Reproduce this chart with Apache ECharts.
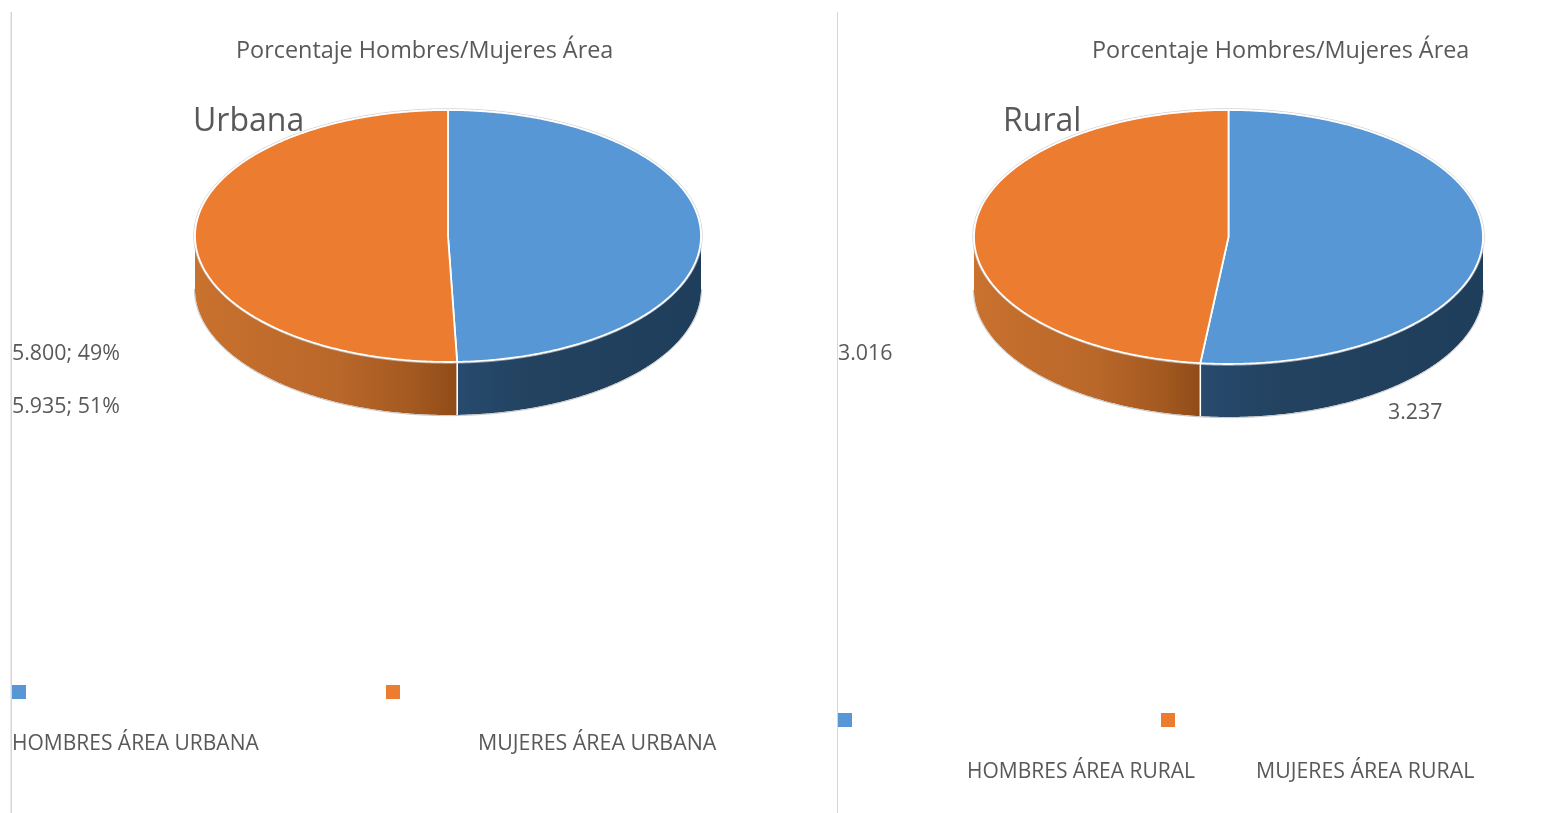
<!DOCTYPE html>
<html>
<head>
<meta charset="utf-8">
<style>html,body{margin:0;padding:0;background:#fff}#c{width:1560px;height:813px}</style>
<script src="https://cdn.jsdelivr.net/npm/echarts@6/dist/echarts.min.js"></script>
</head>
<body>
<div id="c"></div>
<script>
const chartTitle = 'Porcentaje Hombres/Mujeres Área';
const urbanArea = 'Urbana';
const ruralArea = 'Rural';
const urbanCategories = ['HOMBRES ÁREA URBANA', 'MUJERES ÁREA URBANA'];
const urbanValues = [5800, 5935];
const ruralCategories = ['HOMBRES ÁREA RURAL', 'MUJERES ÁREA RURAL'];
const ruralValues = [3237, 3016];

const FONT = '"Open Sans", sans-serif';
const TXT = '#595959';
const TOPS = ['#5897d5', '#ec7c30'];
const fmt = v => String(v).replace(/\B(?=(\d{3})+$)/g, '.');
const pct = (v, arr) => Math.round(v / arr.reduce((a, b) => a + b, 0) * 100) + '%';

function pieSeries(values, names, g) {
  const total = values.reduce((a, b) => a + b, 0);
  return {
    type: 'custom',
    coordinateSystem: 'none',
    silent: true,
    clip: false,
    data: values.map((v, i) => ({ name: names[i], value: [i, v] })),
    renderItem(params, api) {
      const i = api.value(0);
      const before = values.slice(0, i).reduce((a, b) => a + b, 0);
      const t0 = before / total * 2 * Math.PI;
      const t1 = (before + api.value(1)) / total * 2 * Math.PI;
      const pt = (t, dy, grow) => [
        g.cx + (g.rx + (grow || 0)) * Math.sin(t),
        g.cy - (g.ry + (grow || 0)) * Math.cos(t) + (dy || 0)
      ];
      const arc = (a, b, dy, grow) => {
        const n = Math.max(2, Math.ceil(Math.abs(b - a) * 120));
        const out = [];
        for (let k = 0; k <= n; k++) out.push(pt(a + (b - a) * k / n, dy, grow));
        return out;
      };
      const children = [];
      // visible wall: the front half of the disc
      const s0 = Math.max(t0, Math.PI / 2), s1 = Math.min(t1, Math.PI * 1.5);
      if (s1 > s0) {
        const top = arc(s0, s1, 0), bottom = arc(s1, s0, g.depth);
        const xs = top.map(p => p[0]);
        const leftX = Math.min(...xs), rightX = Math.max(...xs);
        children.push({
          type: 'polygon',
          shape: { points: top.concat(bottom) },
          style: {
            fill: {
              type: 'linear', x: leftX, y: 0, x2: rightX, y2: 0, global: true,
              colorStops: i === 1
                ? [{ offset: 0, color: '#c9712e' }, { offset: 0.55, color: '#b9672a' }, { offset: 0.85, color: '#a2581f' }, { offset: 1, color: '#8f4b18' }]
                : [{ offset: 0, color: '#274a6e' }, { offset: 0.3, color: '#22425f' }, { offset: 1, color: '#1f3e5c' }]
            },
            stroke: null
          }
        });
        children.push({
          type: 'polyline',
          shape: { points: arc(s0, s1, g.depth, 0.6) },
          style: { fill: null, stroke: '#c4c4c4', lineWidth: 1 }
        });
        // seam between slices on the wall
        const seamT = i === 0 ? s1 : s0;
        if (seamT > Math.PI / 2 && seamT < Math.PI * 1.5) {
          const a = pt(seamT, 0), b = pt(seamT, g.depth);
          children.push({
            type: 'line',
            shape: { x1: a[0], y1: a[1], x2: b[0], y2: b[1] },
            style: { stroke: '#ffffff', lineWidth: 1.5 }
          });
        }
      }
      // outer grey rim and slice top
      children.push({
        type: 'polyline',
        shape: { points: arc(t0, t1, 0, 1.2) },
        style: { fill: null, stroke: '#c4c4c4', lineWidth: 0.8 }
      });
      children.push({
        type: 'polygon',
        shape: { points: [[g.cx, g.cy]].concat(arc(t0, t1, 0)) },
        style: { fill: TOPS[i], stroke: '#ffffff', lineWidth: 1.8, lineJoin: 'round' }
      });
      return { type: 'group', children };
    }
  };
}

const text = (str, x, y, size) => ({
  type: 'text', x, y, silent: true,
  style: { text: str, fill: TXT, font: size + 'px ' + FONT, verticalAlign: 'middle' }
});
const swatch = (x, y, color) => ({ type: 'rect', x, y, silent: true, shape: { width: 14, height: 14 }, style: { fill: color } });
const divider = (x, w) => ({ type: 'rect', x, y: 12, silent: true, shape: { width: w, height: 801 }, style: { fill: '#d6d6d6' } });

const graphicElements = [
  divider(10.5, 1.5), divider(837, 1),
  text(fmt(urbanValues[0]) + '; ' + pct(urbanValues[0], urbanValues), 12, 354, 21.4),
  text(fmt(urbanValues[1]) + '; ' + pct(urbanValues[1], urbanValues), 12, 407, 21.4),
  text(fmt(ruralValues[1]), 838, 354, 21.4),
  text(fmt(ruralValues[0]), 1388, 413, 21.4),
  swatch(12, 685, TOPS[0]), swatch(386, 685, TOPS[1]),
  swatch(838, 713, TOPS[0]), swatch(1161, 713, TOPS[1]),
  text(urbanCategories[0], 12, 744, 21),
  text(urbanCategories[1], 478, 744, 21.4),
  text(ruralCategories[0], 967, 772, 21),
  text(ruralCategories[1], 1256, 772, 21.3)
];

const titleStyle = { color: TXT, fontFamily: FONT, fontSize: 23.4, fontWeight: 'normal' };
const areaStyle = { color: TXT, fontFamily: FONT, fontSize: 32, fontWeight: 'normal' };

const chart = echarts.init(document.getElementById('c'), null, { renderer: 'canvas' });
chart.setOption({
  animation: false,
  backgroundColor: '#ffffff',
  title: [
    { text: chartTitle, left: 236, top: 40, padding: 0, textStyle: titleStyle },
    { text: chartTitle, left: 1092, top: 40, padding: 0, textStyle: titleStyle },
    { text: urbanArea, left: 193, top: 106, padding: 0, textStyle: areaStyle },
    { text: ruralArea, left: 1003, top: 106, padding: 0, textStyle: areaStyle }
  ],
  series: [
    pieSeries(urbanValues, urbanCategories, { cx: 448, cy: 236, rx: 253, ry: 126, depth: 53 }),
    pieSeries(ruralValues, ruralCategories, { cx: 1228.5, cy: 237, rx: 254.5, ry: 127, depth: 53 })
  ],
  graphic: { elements: graphicElements }
});
</script>
</body>
</html>
